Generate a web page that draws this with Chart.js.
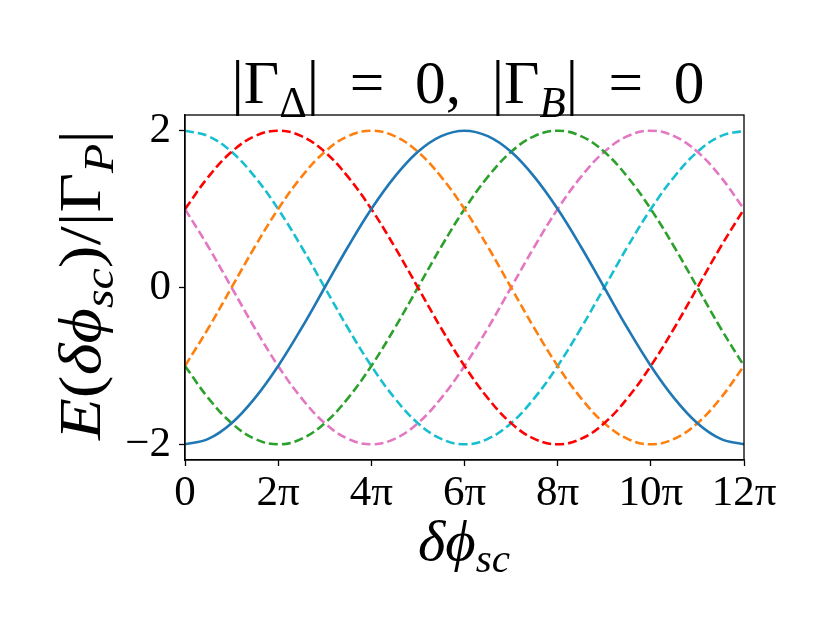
<!DOCTYPE html>
<html>
<head>
<meta charset="utf-8">
<script src="https://cdn.jsdelivr.net/npm/chart.js@4.4.0/dist/chart.umd.min.js"></script>
<style>
  html, body { margin: 0; padding: 0; background: #fff; }
  canvas { display: block; }
</style>
</head>
<body>
<canvas id="c" width="830" height="623"></canvas>
<script>
// x positions in units of pi (0 .. 12 pi, every pi/2)
const phase = [0, 0.5, 1, 1.5, 2, 2.5, 3, 3.5, 4, 4.5, 5, 5.5, 6, 6.5, 7, 7.5, 8, 8.5, 9, 9.5, 10, 10.5, 11, 11.5, 12];

const blueSolid = [-2, -1.93, -1.73, -1.41, -1, -0.52, 0, 0.52, 1, 1.41, 1.73, 1.93, 2, 1.93, 1.73, 1.41, 1, 0.52, 0, -0.52, -1, -1.41, -1.73, -1.93, -2];
const redDash = [1, 1.41, 1.73, 1.93, 2, 1.93, 1.73, 1.41, 1, 0.52, 0, -0.52, -1, -1.41, -1.73, -1.93, -2, -1.93, -1.73, -1.41, -1, -0.52, 0, 0.52, 1];
const orangeDash = [-1, -0.52, 0, 0.52, 1, 1.41, 1.73, 1.93, 2, 1.93, 1.73, 1.41, 1, 0.52, 0, -0.52, -1, -1.41, -1.73, -1.93, -2, -1.93, -1.73, -1.41, -1];
const greenDash = [-1, -1.41, -1.73, -1.93, -2, -1.93, -1.73, -1.41, -1, -0.52, 0, 0.52, 1, 1.41, 1.73, 1.93, 2, 1.93, 1.73, 1.41, 1, 0.52, 0, -0.52, -1];
const pinkDash = [1, 0.52, 0, -0.52, -1, -1.41, -1.73, -1.93, -2, -1.93, -1.73, -1.41, -1, -0.52, 0, 0.52, 1, 1.41, 1.73, 1.93, 2, 1.93, 1.73, 1.41, 1];
const cyanDash = [2, 1.93, 1.73, 1.41, 1, 0.52, 0, -0.52, -1, -1.41, -1.73, -1.93, -2, -1.93, -1.73, -1.41, -1, -0.52, 0, 0.52, 1, 1.41, 1.73, 1.93, 2];

const xTicks = [0, 2, 4, 6, 8, 10, 12];
const xTickLabels = ['0', '2π', '4π', '6π', '8π', '10π', '12π'];
const yTicks = [-2, 0, 2];
const yTickLabels = ['−2', '0', '2'];

const SERIF = "'Liberation Serif', 'DejaVu Serif', serif";

function series(values, color, dashed) {
  return {
    data: phase.map((p, i) => ({ x: p, y: values[i] })),
    borderColor: color,
    borderWidth: 2.6,
    borderDash: dashed ? [9, 4] : [],
    pointRadius: 0,
    tension: 0.4,
    fill: false
  };
}

// draw a run of text pieces; sub pieces are smaller and lowered.
// the run is stretched sideways to span `width` px (computer modern is wider than times)
function drawRich(ctx, parts, size, cx, cy, width, rotate) {
  const font = (p) => (p.italic ? 'italic ' : '') + (p.sub ? size * 0.7 : size) + 'px ' + SERIF;
  let total = 0;
  parts.forEach(p => { ctx.font = font(p); total += ctx.measureText(p.t).width; });
  ctx.save();
  ctx.translate(cx, cy);
  if (rotate) ctx.rotate(-Math.PI / 2);
  ctx.scale(width / total, 1);
  ctx.fillStyle = '#000';
  ctx.textBaseline = 'alphabetic';
  ctx.textAlign = 'left';
  let x = -total / 2;
  parts.forEach(p => {
    ctx.font = font(p);
    ctx.fillText(p.t, x, p.sub ? size * 0.22 : 0);
    x += ctx.measureText(p.t).width;
  });
  ctx.restore();
}

const labelsPlugin = {
  id: 'labels',
  afterDraw(chart) {
    const ctx = chart.ctx;
    const a = chart.chartArea;
    // frame
    ctx.save();
    ctx.strokeStyle = '#000';
    ctx.lineWidth = 1.3;
    ctx.strokeRect(a.left, a.top, a.right - a.left, a.bottom - a.top);
    ctx.restore();

    const mid = (a.left + a.right) / 2;
    drawRich(ctx, [
      { t: '|Γ' }, { t: 'Δ', sub: true }, { t: '|  =  0,  |Γ' }, { t: 'B', sub: true, italic: true }, { t: '|  =  0' }
    ], 62, 468, 103, 473, false);

    drawRich(ctx, [
      { t: 'δϕ', italic: true }, { t: 'sc', sub: true, italic: true }
    ], 56, 464, 560, 92, false);

    drawRich(ctx, [
      { t: 'E', italic: true }, { t: '(' }, { t: 'δϕ', italic: true }, { t: 'sc', sub: true, italic: true },
      { t: ')/|Γ' }, { t: 'P', sub: true, italic: true }, { t: '|' }
    ], 60, 100, 285, 310, true);
  }
};

new Chart(document.getElementById('c'), {
  type: 'line',
  data: {
    datasets: [
      series(blueSolid, '#1f77b4', false),
      series(redDash, '#ff0000', true),
      series(orangeDash, '#ff7f0e', true),
      series(greenDash, '#2ca02c', true),
      series(pinkDash, '#e377c2', true),
      series(cyanDash, '#17becf', true)
    ]
  },
  options: {
    responsive: false,
    animation: false,
    layout: { padding: { left: 0, top: 115, right: 86, bottom: 0 } },
    plugins: { legend: { display: false }, title: { display: false }, tooltip: { enabled: false } },
    scales: {
      x: {
        type: 'linear',
        min: 0,
        max: 12,
        afterBuildTicks: (s) => { s.ticks = xTicks.map(v => ({ value: v })); },
        afterFit: (s) => { s.height = 163; },
        ticks: {
          callback: (v) => xTickLabels[xTicks.indexOf(v)],
          font: { family: SERIF, size: 43 },
          color: '#000',
          padding: 2,
          maxRotation: 0,
          autoSkip: false
        },
        grid: { display: true, drawOnChartArea: false, drawTicks: true, tickLength: 6, tickWidth: 1.3, tickColor: '#000' },
        border: { display: true, color: '#000', width: 1.3 }
      },
      y: {
        type: 'linear',
        min: -2.2,
        max: 2.2,
        afterBuildTicks: (s) => { s.ticks = yTicks.map(v => ({ value: v })); },
        afterFit: (s) => { s.width = 185; },
        ticks: {
          callback: (v) => yTickLabels[yTicks.indexOf(v)],
          font: { family: SERIF, size: 43 },
          color: '#000',
          padding: 8,
          autoSkip: false
        },
        grid: { display: true, drawOnChartArea: false, drawTicks: true, tickLength: 6, tickWidth: 1.3, tickColor: '#000' },
        border: { display: true, color: '#000', width: 1.3 }
      }
    }
  },
  plugins: [labelsPlugin]
});
</script>
</body>
</html>
